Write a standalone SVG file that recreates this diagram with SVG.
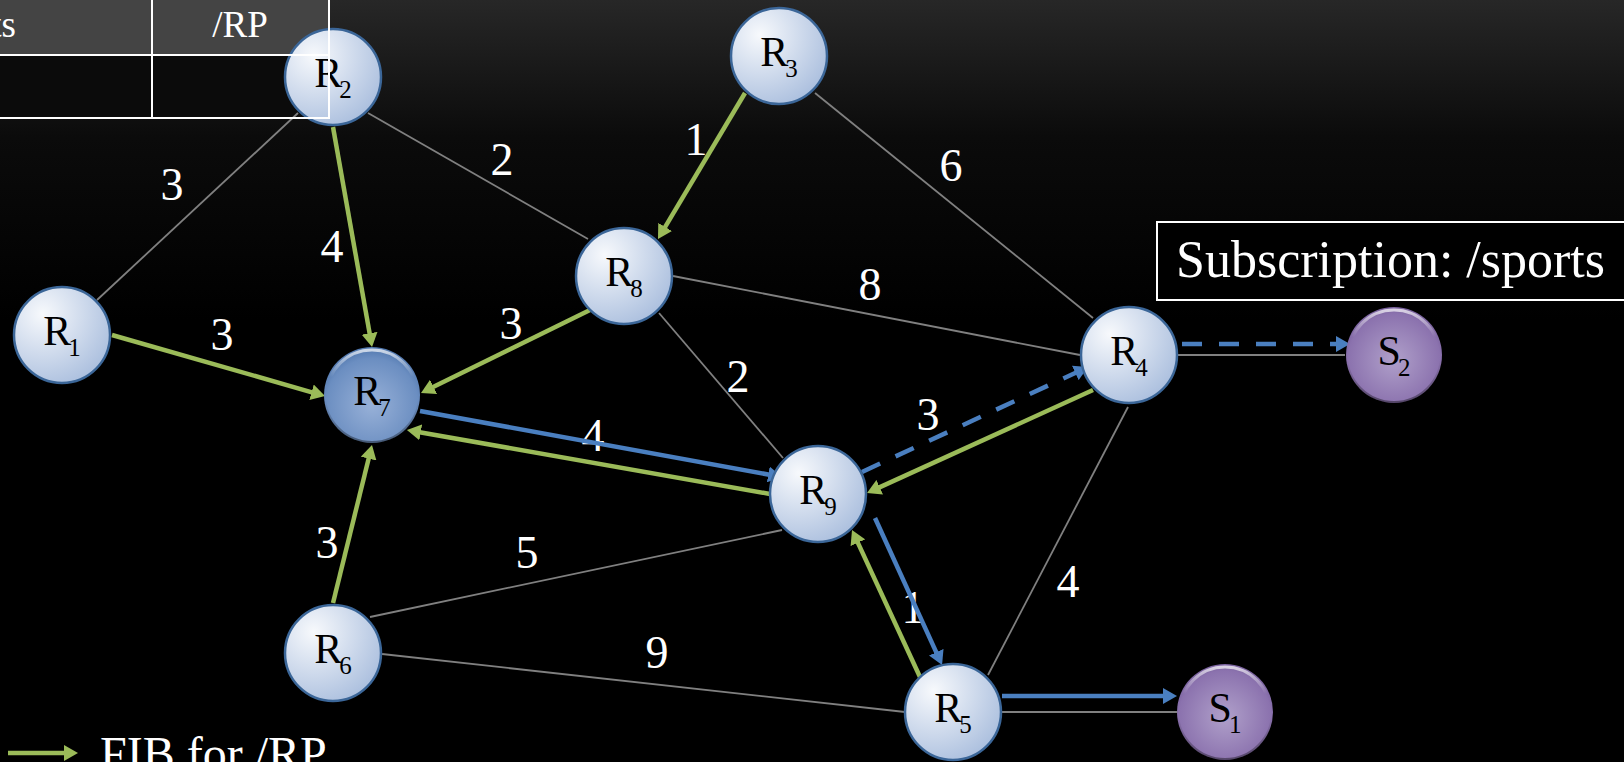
<svg xmlns="http://www.w3.org/2000/svg" width="1624" height="762" viewBox="0 0 1624 762">
<defs>
<linearGradient id="bg" x1="0" y1="0" x2="0" y2="1">
<stop offset="0" stop-color="#272727"/>
<stop offset="0.18" stop-color="#0b0b0b"/>
<stop offset="0.42" stop-color="#000"/>
</linearGradient>
<radialGradient id="gLight" cx="0.3" cy="0.28" r="0.8">
<stop offset="0" stop-color="#f7f9fc"/>
<stop offset="1" stop-color="#abbfde"/>
</radialGradient>
<radialGradient id="gDark" cx="0.5" cy="0.6" r="0.6">
<stop offset="0" stop-color="#98b1d8"/>
<stop offset="0.8" stop-color="#6b8ec1"/>
<stop offset="1" stop-color="#4f76ad"/>
</radialGradient>
<radialGradient id="gPurple" cx="0.5" cy="0.55" r="0.6">
<stop offset="0" stop-color="#b0a0ca"/>
<stop offset="0.8" stop-color="#8b72ae"/>
<stop offset="1" stop-color="#6c5592"/>
</radialGradient>
<linearGradient id="rimHi" x1="0" y1="0" x2="0" y2="1">
<stop offset="0" stop-color="#fff" stop-opacity="0.7"/>
<stop offset="0.3" stop-color="#fff" stop-opacity="0"/>
</linearGradient>
<linearGradient id="rimLo" x1="0" y1="0" x2="0" y2="1">
<stop offset="0.55" stop-color="#000" stop-opacity="0"/>
<stop offset="1" stop-color="#000" stop-opacity="0.4"/>
</linearGradient>
<marker id="ahG" viewBox="0 0 14 16" refX="4" refY="8" markerWidth="14" markerHeight="16" markerUnits="userSpaceOnUse" orient="auto">
<path d="M0,0 L14,8 L0,16 Z" fill="#9bbb59"/>
</marker>
<marker id="ahB" viewBox="0 0 14 16" refX="4" refY="8" markerWidth="14" markerHeight="16" markerUnits="userSpaceOnUse" orient="auto">
<path d="M0,0 L14,8 L0,16 Z" fill="#4a7fc0"/>
</marker>
<style>
.edge{stroke:#808080;stroke-width:1.8;fill:none}
.g{stroke:#9bbb59;stroke-width:4.5;fill:none;marker-end:url(#ahG)}
.b{stroke:#4a7fc0;stroke-width:4.5;fill:none;marker-end:url(#ahB)}
.dash{stroke-dasharray:20 17}
.lbl{font-family:"Liberation Serif",serif;font-size:46px;fill:#fff;text-anchor:middle}
.node{stroke:#3b6698;stroke-width:2.5}
.nt{font-family:"Liberation Serif",serif;font-size:42px;fill:#000;text-anchor:middle}
.sub{font-size:25px}
.big{font-family:"Liberation Serif",serif;fill:#fff}
.tl{stroke:#fff;stroke-width:2;fill:none}
</style>
</defs>
<rect width="1624" height="762" fill="url(#bg)"/>

<g id="table-fill">
<rect x="-5" y="-5" width="334" height="60" fill="#444"/>
<rect x="-5" y="55" width="334" height="64" fill="#0b0b0b"/>
<text class="big" x="16" y="37" font-size="37" text-anchor="end">ts</text>
<text class="big" x="240" y="37" font-size="37" text-anchor="middle">/RP</text>
</g>

<g id="connectors">
<line class="edge" x1="298" y1="113" x2="97" y2="300"/>
<line class="edge" x1="368" y1="113" x2="588" y2="239"/>
<line class="edge" x1="815" y1="93" x2="1093" y2="318"/>
<line class="edge" x1="673" y1="276" x2="1080" y2="355"/>
<line class="edge" x1="659" y1="313" x2="783" y2="458"/>
<line class="edge" x1="370" y1="617" x2="782" y2="530"/>
<line class="edge" x1="382" y1="654" x2="905" y2="712"/>
<line class="edge" x1="1128" y1="407" x2="988" y2="675"/>
<line class="edge" x1="1177" y1="355" x2="1345" y2="355"/>
<line class="edge" x1="1001" y1="712" x2="1177" y2="712"/>

<text class="lbl" x="172" y="200">3</text>
<text class="lbl" x="332" y="262">4</text>
<text class="lbl" x="222" y="350">3</text>
<text class="lbl" x="502" y="175">2</text>
<text class="lbl" x="696" y="155">1</text>
<text class="lbl" x="951" y="181">6</text>
<text class="lbl" x="870" y="300">8</text>
<text class="lbl" x="511" y="339">3</text>
<text class="lbl" x="738" y="392">2</text>
<text class="lbl" x="593" y="451">4</text>
<text class="lbl" x="928" y="430">3</text>
<text class="lbl" x="327" y="558">3</text>
<text class="lbl" x="527" y="568">5</text>
<text class="lbl" x="657" y="668">9</text>
<text class="lbl" x="1068" y="597">4</text>
<text class="lbl" x="913" y="623">1</text>

<line class="g" x1="333" y1="127" x2="370.3" y2="337.2"/>
<line class="g" x1="112" y1="335" x2="315.4" y2="393.3"/>
<line class="g" x1="333" y1="603" x2="369.6" y2="454.7"/>
<line class="g" x1="590" y1="310" x2="430" y2="388.6"/>
<line class="g" x1="745" y1="93" x2="663.1" y2="230.4"/>
<line class="g" x1="770" y1="494" x2="416.8" y2="431.7"/>
<line class="g" x1="1093" y1="390" x2="876.1" y2="488.9"/>
<line class="g" x1="920" y1="677" x2="856.2" y2="539.1"/>

<line class="b" x1="420" y1="411" x2="772.2" y2="475.2"/>
<line class="b dash" x1="862" y1="472" x2="1078.9" y2="371.2"/>
<line class="b dash" x1="1182" y1="344" x2="1340" y2="344"/>
<line class="b" x1="875" y1="518" x2="937.9" y2="655.9"/>
<line class="b" x1="1002" y1="696" x2="1167" y2="696"/>
</g>

<g id="R1"><circle class="node" cx="62" cy="335" r="48" fill="url(#gLight)"/><text class="nt" x="62" y="345">R<tspan class="sub" dx="-3" dy="11">1</tspan></text></g>
<g id="R2"><circle class="node" cx="333" cy="77" r="48" fill="url(#gLight)"/><text class="nt" x="333" y="87">R<tspan class="sub" dx="-3" dy="11">2</tspan></text></g>
<g id="R3"><circle class="node" cx="779" cy="56" r="48" fill="url(#gLight)"/><text class="nt" x="779" y="66">R<tspan class="sub" dx="-3" dy="11">3</tspan></text></g>
<g id="R4"><circle class="node" cx="1129" cy="355" r="48" fill="url(#gLight)"/><text class="nt" x="1129" y="365">R<tspan class="sub" dx="-3" dy="11">4</tspan></text></g>
<g id="R5"><circle class="node" cx="953" cy="712" r="48" fill="url(#gLight)"/><text class="nt" x="953" y="722">R<tspan class="sub" dx="-3" dy="11">5</tspan></text></g>
<g id="R6"><circle class="node" cx="333" cy="653" r="48" fill="url(#gLight)"/><text class="nt" x="333" y="663">R<tspan class="sub" dx="-3" dy="11">6</tspan></text></g>
<g id="R7"><circle cx="372" cy="395" r="48" fill="url(#gDark)"/><circle cx="372" cy="395" r="45" fill="none" stroke="url(#rimHi)" stroke-width="3"/><circle cx="372" cy="395" r="47" fill="none" stroke="url(#rimLo)" stroke-width="2"/><text class="nt" x="372" y="405">R<tspan class="sub" dx="-3" dy="11">7</tspan></text></g>
<g id="R8"><circle class="node" cx="624" cy="276" r="48" fill="url(#gLight)"/><text class="nt" x="624" y="286">R<tspan class="sub" dx="-3" dy="11">8</tspan></text></g>
<g id="R9"><circle class="node" cx="818" cy="494" r="48" fill="url(#gLight)"/><text class="nt" x="818" y="504">R<tspan class="sub" dx="-3" dy="11">9</tspan></text></g>
<g id="S1"><circle cx="1225" cy="712" r="48" fill="url(#gPurple)"/><circle cx="1225" cy="712" r="45" fill="none" stroke="url(#rimHi)" stroke-width="3"/><circle cx="1225" cy="712" r="47" fill="none" stroke="url(#rimLo)" stroke-width="2"/><text class="nt" x="1225" y="722">S<tspan class="sub" dx="-3" dy="11">1</tspan></text></g>
<g id="S2"><circle cx="1394" cy="355" r="48" fill="url(#gPurple)"/><circle cx="1394" cy="355" r="45" fill="none" stroke="url(#rimHi)" stroke-width="3"/><circle cx="1394" cy="355" r="47" fill="none" stroke="url(#rimLo)" stroke-width="2"/><text class="nt" x="1394" y="365">S<tspan class="sub" dx="-3" dy="11">2</tspan></text></g>

<g id="table-lines">
<line class="tl" x1="-5" y1="55" x2="329" y2="55"/>
<line class="tl" x1="-5" y1="118" x2="330" y2="118"/>
<line class="tl" x1="152" y1="-5" x2="152" y2="119"/>
<line class="tl" x1="329" y1="-5" x2="329" y2="119"/>
</g>

<g id="subscription">
<rect x="1157" y="222" width="480" height="78" fill="#000" stroke="#fff" stroke-width="2"/>
<text class="big" x="1176" y="277" font-size="52">Subscription: /sports</text>
</g>

<g id="legend">
<line class="g" x1="8" y1="753" x2="68" y2="753"/>
<text class="big" x="100" y="770" font-size="48">FIB for /RP</text>
</g>
</svg>
